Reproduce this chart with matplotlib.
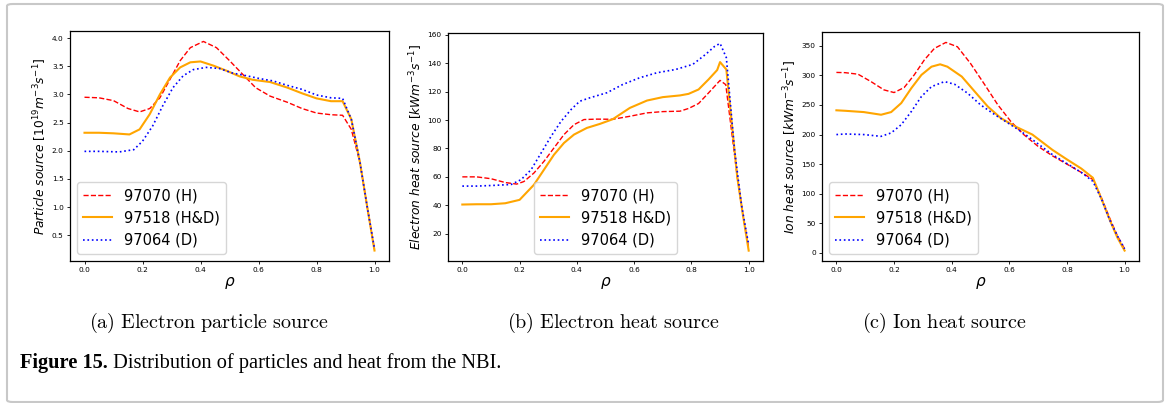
import matplotlib
matplotlib.use("Agg")
import matplotlib.pyplot as plt
from matplotlib.patches import FancyBboxPatch

rho_a_h = [0.0, 0.05, 0.1, 0.15, 0.19, 0.225, 0.26, 0.295, 0.33, 0.365, 0.41, 0.455,
           0.5, 0.545, 0.59, 0.64, 0.7, 0.75, 0.8, 0.85, 0.89, 0.92, 0.95, 0.975, 1.0]
part_h = [2.95, 2.94, 2.89, 2.75, 2.69, 2.75, 2.94, 3.27, 3.60, 3.83, 3.94, 3.83,
          3.60, 3.36, 3.12, 2.97, 2.86, 2.75, 2.67, 2.64, 2.63, 2.38, 1.79, 1.00, 0.25]
rho_a_hd = [0.0, 0.05, 0.1, 0.155, 0.19, 0.225, 0.26, 0.295, 0.33, 0.365, 0.4, 0.445,
            0.49, 0.535, 0.58, 0.64, 0.7, 0.75, 0.8, 0.85, 0.89, 0.92, 0.95, 0.975, 1.0]
part_hd = [2.32, 2.32, 2.31, 2.29, 2.38, 2.65, 3.00, 3.30, 3.48, 3.57, 3.585, 3.51,
           3.42, 3.32, 3.26, 3.22, 3.12, 3.02, 2.93, 2.88, 2.88, 2.56, 1.79, 1.00, 0.23]
rho_a_d = [0.0, 0.05, 0.12, 0.17, 0.2, 0.235, 0.27, 0.305, 0.34, 0.375, 0.42, 0.465,
           0.51, 0.56, 0.605, 0.65, 0.7, 0.75, 0.8, 0.85, 0.89, 0.92, 0.95, 0.975, 1.0]
part_d = [1.99, 1.99, 1.98, 2.02, 2.17, 2.44, 2.80, 3.12, 3.33, 3.44, 3.48, 3.46,
          3.38, 3.33, 3.28, 3.24, 3.16, 3.09, 2.99, 2.94, 2.93, 2.56, 1.79, 1.00, 0.26]

# ---- (b) electron heat source [kW m^-3 s^-1] ----
rho_b_h = [0.0, 0.05, 0.1, 0.15, 0.19, 0.215, 0.25, 0.285, 0.32, 0.355, 0.39, 0.425,
           0.47, 0.525, 0.585, 0.645, 0.7, 0.76, 0.79, 0.825, 0.86, 0.9, 0.92, 0.96, 0.98, 1.0]
qe_h = [60, 60, 58.7, 56, 54.9, 56.7, 62.7, 70.9, 80.4, 89.8, 96.8, 100.4,
        100.7, 100.6, 102.7, 105.1, 106, 106.3, 108.2, 111.7, 119.2, 128, 125, 60.3, 33, 10]
rho_b_hd = [0.0, 0.05, 0.1, 0.15, 0.2, 0.25, 0.285, 0.32, 0.355, 0.39, 0.435, 0.48,
            0.525, 0.585, 0.645, 0.7, 0.76, 0.79, 0.825, 0.86, 0.89, 0.9, 0.922, 0.96, 0.98, 1.0]
qe_hd = [40.5, 40.7, 40.7, 41.4, 43.8, 54.4, 65, 75.6, 83.9, 89.8, 94.5, 97.3,
         100.6, 108.6, 113.8, 116.2, 117.4, 118.5, 121.6, 128.7, 135.3, 140.9, 135.7, 60, 33, 8]
rho_b_d = [0.0, 0.05, 0.1, 0.17, 0.205, 0.24, 0.275, 0.31, 0.345, 0.38, 0.41, 0.445,
           0.505, 0.56, 0.62, 0.68, 0.745, 0.805, 0.85, 0.88, 0.9, 0.922, 0.95, 0.975, 1.0]
qe_d = [53.5, 53.5, 53.9, 54.6, 58, 65, 76.8, 88.6, 99.2, 107.5, 113.3, 115.7,
        119.3, 125.1, 129.9, 133.4, 135.7, 139.3, 146.4, 151.8, 154.1, 144, 80, 40, 12]

# ---- (c) ion heat source [kW m^-3 s^-1] ----
rho_c_h = [0.0, 0.03, 0.075, 0.12, 0.165, 0.2, 0.235, 0.27, 0.305, 0.34, 0.38, 0.42,
           0.465, 0.515, 0.56, 0.605, 0.65, 0.7, 0.75, 0.8, 0.85, 0.89, 0.92, 0.95, 0.975, 1.0]
qi_h = [305, 304.6, 302, 289.5, 275.5, 271, 279.4, 300.8, 326, 345.6, 355.7, 348.3,
        320.4, 284, 250.3, 222.3, 200, 180, 164, 150, 136, 124, 93, 57, 29, 7]
rho_c_hd = [0.0, 0.03, 0.095, 0.155, 0.19, 0.225, 0.26, 0.295, 0.33, 0.36, 0.385, 0.435,
            0.48, 0.525, 0.57, 0.62, 0.68, 0.75, 0.8, 0.85, 0.89, 0.92, 0.95, 0.975, 1.0]
qi_hd = [241, 240.2, 238, 233.5, 238, 253.2, 278.4, 300.8, 314.7, 318.7, 314.7, 298,
         272.7, 247.5, 228, 213.9, 200, 174, 158, 142.5, 127, 91, 54, 26, 4]
rho_c_d = [0.0, 0.03, 0.095, 0.155, 0.19, 0.225, 0.26, 0.295, 0.33, 0.375, 0.41, 0.455,
           0.5, 0.55, 0.595, 0.64, 0.68, 0.75, 0.8, 0.85, 0.89, 0.92, 0.95, 0.975, 1.0]
qi_d = [200, 201, 200, 197, 202.8, 216.7, 239, 264.3, 281, 289.5, 285, 270,
        250.3, 233.5, 219.6, 205.5, 191.5, 166, 151, 136, 121, 91, 54, 29, 7]

panels = [
    ([rho_a_h, rho_a_hd, rho_a_d], [part_h, part_hd, part_d],
     ["97070 (H)", "97518 (H&D)", "97064 (D)"],
     r"$Particle\ source\ [10^{19}m^{-3}s^{-1}]$", "lower left",
     [70, 31, 389, 261], r"$\mathrm{(a)\ Electron\ particle\ source}$", 209),
    ([rho_b_h, rho_b_hd, rho_b_d], [qe_h, qe_hd, qe_d],
     ["97070 (H)", "97518 H&D)", "97064 (D)"],
     r"$Electron\ heat\ source\ [kWm^{-3}s^{-1}]$", "lower center",
     [448, 33, 763, 261], r"$\mathrm{(b)\ Electron\ heat\ source}$", 613),
    ([rho_c_h, rho_c_hd, rho_c_d], [qi_h, qi_hd, qi_d],
     ["97070 (H)", "97518 (H&D)", "97064 (D)"],
     r"$Ion\ heat\ source\ [kWm^{-3}s^{-1}]$", "lower left",
     [822, 32, 1139, 261], r"$\mathrm{(c)\ Ion\ heat\ source}$", 945),
]

W, H = 1167, 403
fig = plt.figure(figsize=(W / 100, H / 100), dpi=100)
plt.rcParams['mathtext.fontset'] = 'dejavusans'

styles = [dict(color='red', ls='--', lw=1.0),
          dict(color='orange', ls='-', lw=1.5),
          dict(color='blue', ls=':', lw=1.2)]

for xs, ys, labels, ylab, loc, box, cap, capx in panels:
    l, t, r, b = box
    ax = fig.add_axes([l / W, 1 - b / H, (r - l) / W, (b - t) / H])
    for x, y, lab, st in zip(xs, ys, labels, styles):
        ax.plot(x, y, label=lab, **st)
    ax.set_xticks([0.0, 0.2, 0.4, 0.6, 0.8, 1.0])
    ax.tick_params(labelsize=5.3, length=2.5, width=0.6, pad=2)
    ax.set_ylabel(ylab, fontsize=8.8, labelpad=2)
    ax.set_xlabel(r"$\rho$", fontsize=11, labelpad=1)
    for sp in ax.spines.values():
        sp.set_linewidth(0.9)
    ax.legend(loc=loc, fontsize=10.5, handlelength=2.0, borderpad=0.4,
              labelspacing=0.5, framealpha=0.8)
    fig.text(capx / W, 1 - 323 / H, cap, ha='center', va='center',
             fontsize=14.5, math_fontfamily='cm')

fig_lbl = fig.text(20 / W, 1 - 363 / H, "Figure 15.", ha='left', va='center',
                   fontsize=14.7, family='Liberation Serif', weight='bold')
plt.annotate(" Distribution of particles and heat from the NBI.",
             xy=(1, 0.5), xycoords=fig_lbl, ha='left', va='center',
             fontsize=14.7, family='Liberation Serif', annotation_clip=False)

# light frame around the whole figure
frame = FancyBboxPatch((7 / W, 1 - 402 / H), (1163 - 7) / W, (402 - 4) / H,
                       boxstyle="round,pad=0,rounding_size=0.005",
                       transform=fig.transFigure, fill=False,
                       edgecolor='#c8c8c8', lw=1.5)
fig.patches.append(frame)

fig.savefig("out.png", dpi=100)
